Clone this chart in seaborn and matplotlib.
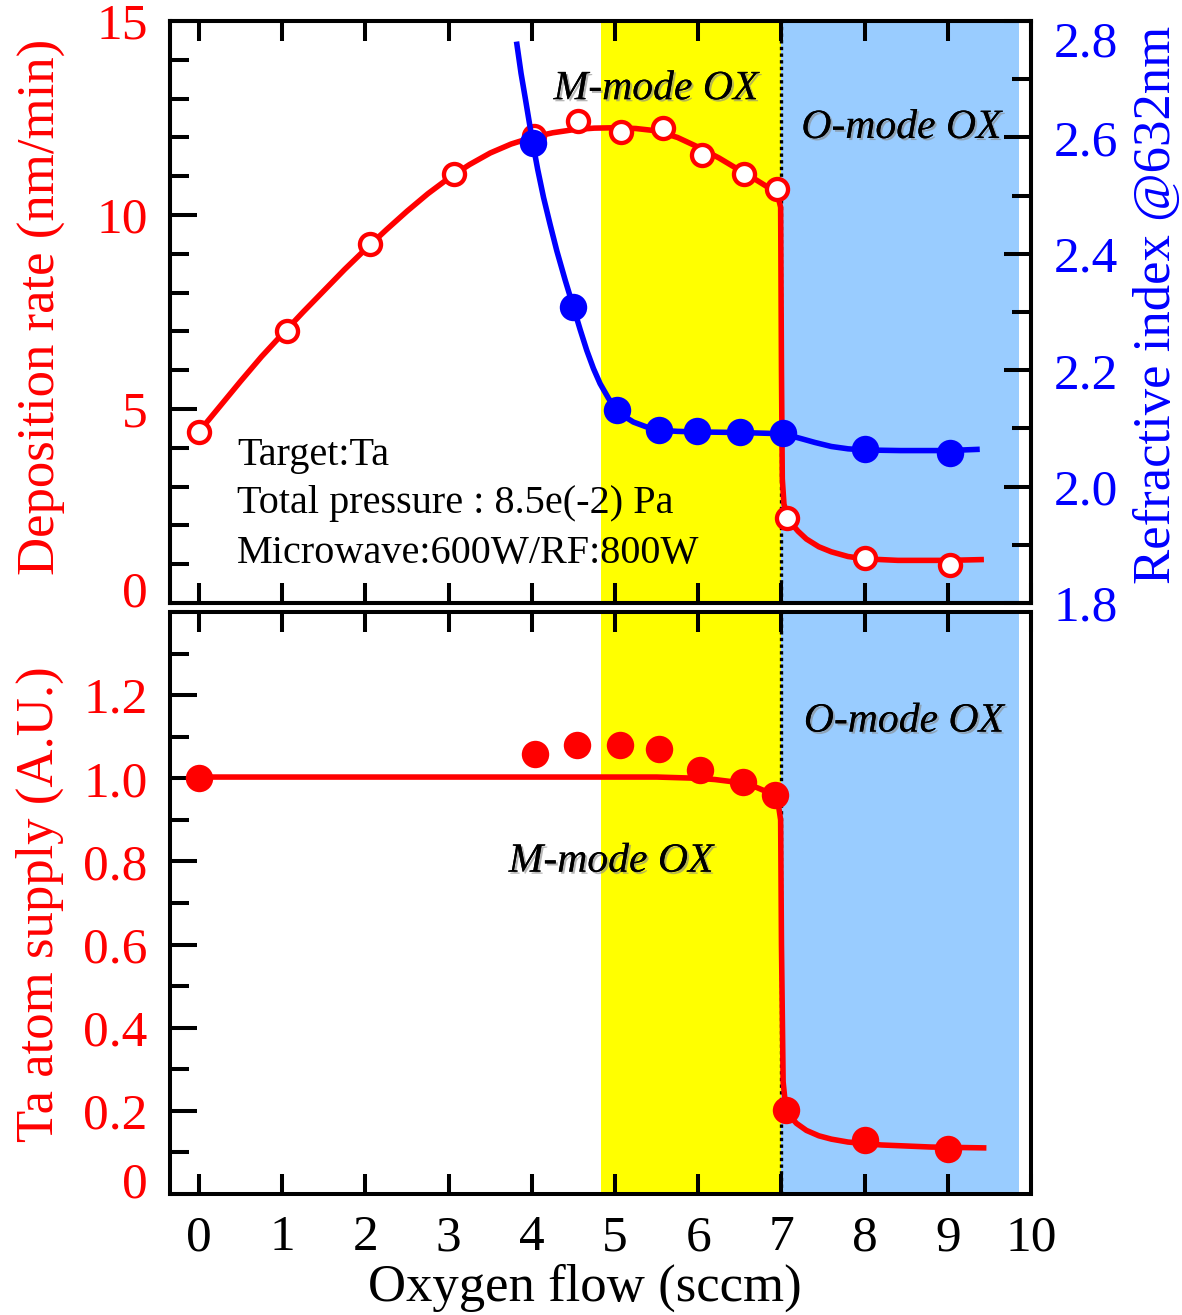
import matplotlib
matplotlib.use("Agg")
import matplotlib.pyplot as plt
import matplotlib.patheffects as pe
import matplotlib.transforms as mtransforms
from matplotlib.ticker import FixedLocator, MultipleLocator
import seaborn as sns

plt.rcParams['font.family'] = ['Liberation Serif', 'DejaVu Serif']

# deposition rate (nm/min), measured points
dep_x = [0, 1.06, 2.05, 3.06, 4.02, 4.55, 5.07, 5.58, 6.04, 6.55, 6.95, 7.07, 8.0, 9.02]
dep_y = [4.42, 7.0, 9.25, 11.05, 12.03, 12.43, 12.13, 12.24, 11.56, 11.06, 10.66, 2.19, 1.16, 0.98]
# fitted curve
dep_fit_x = [0, 0.25, 0.5, 0.75, 1.0, 1.25, 1.5, 1.75, 2.0, 2.25, 2.5, 2.75, 3.0, 3.25,
             3.5, 3.75, 4.0, 4.25, 4.5, 4.75, 5.0, 5.25, 5.5, 5.75, 6.0, 6.25, 6.5, 6.7,
             6.85, 6.95, 6.99, 7.0, 7.01, 7.03, 7.07, 7.12, 7.2, 7.3, 7.45, 7.6, 7.8,
             8.0, 8.4, 9.0, 9.4]
dep_fit_y = [4.42, 5.07, 5.72, 6.35, 6.93, 7.5, 8.05, 8.6, 9.12, 9.62, 10.1, 10.55, 10.95,
             11.3, 11.6, 11.83, 12.0, 12.12, 12.2, 12.24, 12.25, 12.23, 12.17, 12.0, 11.75,
             11.47, 11.15, 10.9, 10.7, 10.55, 10.2, 6.0, 3.2, 2.55, 2.25, 2.05, 1.85, 1.65,
             1.45, 1.32, 1.2, 1.14, 1.1, 1.1, 1.12]

# refractive index @632nm
ri_x = [4.01, 4.50, 5.02, 5.53, 5.98, 6.50, 7.02, 8.0, 9.02]
ri_y = [2.591, 2.308, 2.131, 2.097, 2.095, 2.094, 2.092, 2.064, 2.057]
ri_fit_x = [3.82, 3.87, 3.92, 3.97, 4.01, 4.07, 4.14, 4.22, 4.30, 4.40, 4.50, 4.58, 4.66,
            4.74, 4.82, 4.92, 5.02, 5.12, 5.22, 5.37, 5.53, 5.75, 6.0, 6.5, 7.0, 7.12,
            7.25, 7.4, 7.6, 7.8, 8.0, 8.43, 9.0, 9.35]
ri_fit_y = [2.760, 2.710, 2.668, 2.625, 2.591, 2.545, 2.497, 2.450, 2.405, 2.355, 2.308,
            2.270, 2.234, 2.203, 2.177, 2.152, 2.131, 2.120, 2.111, 2.103, 2.097, 2.095,
            2.094, 2.093, 2.091, 2.087, 2.082, 2.076, 2.069, 2.065, 2.063, 2.062, 2.062,
            2.064]

# Ta atom supply (A.U.)
ta_x = [0, 4.04, 4.54, 5.06, 5.53, 6.02, 6.54, 6.92, 7.06, 8.0, 9.0]
ta_y = [1.0, 1.058, 1.08, 1.08, 1.07, 1.02, 0.99, 0.96, 0.202, 0.13, 0.108]
ta_fit_x = [0, 2.0, 4.0, 5.5, 6.0, 6.2, 6.4, 6.55, 6.7, 6.82, 6.9, 6.96, 6.99, 7.0,
            7.02, 7.05, 7.1, 7.18, 7.3, 7.45, 7.6, 7.8, 8.2, 8.8, 9.43]
ta_fit_y = [1.003, 1.003, 1.003, 1.003, 1.0, 0.997, 0.992, 0.987, 0.978, 0.968, 0.958,
            0.94, 0.9, 0.6, 0.27, 0.21, 0.188, 0.17, 0.153, 0.14, 0.132, 0.125, 0.118,
            0.113, 0.111]

# regions
m_mode = (4.83, 7.0)
o_mode = (7.0, 9.85)
boundary = 7.0

fig = plt.figure(figsize=(11.82, 13.15), dpi=100)
ax1 = fig.add_axes([0.1438, 0.5414, 0.7285, 0.4426])
ax3 = fig.add_axes([0.1438, 0.0920, 0.7285, 0.4426])

for ax in (ax1, ax3):
    ax.axvspan(*m_mode, color='#ffff00', lw=0, zorder=0)
    ax.axvspan(*o_mode, color='#99ccff', lw=0, zorder=0)
    ax.axvline(boundary, color='black', ls=(0, (1, 1)), lw=2.4, zorder=1)
    ax.set_xlim(-0.35, 10)
    ax.xaxis.set_major_locator(FixedLocator(range(0, 11)))
    ax.tick_params(axis='x', which='major', direction='in', length=14.5, width=2.9,
                   top=True, bottom=True, pad=15, labelsize=37)
    ax.tick_params(axis='y', which='major', direction='in', length=19.5, width=2.9,
                   left=True, right=False, pad=16, labelsize=37, labelcolor='red')
    ax.tick_params(axis='y', which='minor', direction='in', length=13.7, width=2.9,
                   left=True, right=False)
    for s in ax.spines.values():
        s.set_linewidth(2.9)

ax1.tick_params(axis='x', labelbottom=False)

line_kw = dict(lw=4.0, estimator=None, sort=False, solid_joinstyle='round', zorder=3)

# top panel: deposition rate
sns.lineplot(x=dep_fit_x, y=dep_fit_y, color='red', ax=ax1, **line_kw)
sns.scatterplot(x=dep_x, y=dep_y, color='white', edgecolor='red', linewidth=3.1,
                s=230, marker='o', ax=ax1, zorder=4)
ax1.set_ylim(0, 15)
ax1.yaxis.set_major_locator(FixedLocator([0, 5, 10, 15]))
ax1.yaxis.set_minor_locator(MultipleLocator(1))
ax1.set_ylabel('Deposition rate (nm/min)', fontsize=38, color='red')
ax1.yaxis.label.set(ha='center', va='center', rotation_mode='default')
ax1.yaxis.set_label_coords(-0.149, 0.509)

ax1.text(0.46, 3.56, 'Target:Ta', fontsize=29, va='baseline', zorder=5)
ax1.text(0.46, 2.32, 'Total pressure : 8.5e(-2) Pa', fontsize=29, va='baseline', zorder=5)
ax1.text(0.46, 1.03, 'Microwave:600W/RF:800W', fontsize=29, va='baseline', zorder=5)

shadow = [pe.withSimplePatchShadow(offset=(1.5, -1.5), shadow_rgbFace='#888888', alpha=0.6),
          pe.Normal()]
ax1.text(5.49, 13.25, 'M-mode OX', fontsize=30, style='italic', ha='center', va='center',
         path_effects=shadow, zorder=5)
ax1.text(8.44, 12.25, 'O-mode OX', fontsize=30, style='italic', ha='center', va='center',
         path_effects=shadow, zorder=5)

# right axis: refractive index
ax2 = ax1.twinx()
sns.lineplot(x=ri_fit_x, y=ri_fit_y, color='#0000ff', ax=ax2, **line_kw)
sns.scatterplot(x=ri_x, y=ri_y, color='#0000ff', edgecolor='#0000ff', linewidth=0,
                s=390, marker='o', ax=ax2, zorder=4)
ax2.set_ylim(1.8, 2.8)
ax2.set_xlim(-0.35, 10)
ax2.yaxis.set_major_locator(FixedLocator([1.8, 2.0, 2.2, 2.4, 2.6, 2.8]))
ax2.yaxis.set_minor_locator(MultipleLocator(0.1))
ax2.set_yticklabels(['1.8', '2.0', '2.2', '2.4', '2.6', '2.8'])
ax2.tick_params(axis='y', which='major', direction='in', length=19.5, width=2.9, pad=16,
                labelsize=37, labelcolor='#0000ff')
ax2.tick_params(axis='y', which='minor', direction='in', length=13.7, width=2.9)
ax2.get_yticklabels()[-1].set_verticalalignment('top')
for s in ax2.spines.values():
    s.set_linewidth(2.9)
ax2.set_ylabel('Refractive index @632nm', fontsize=38, color='#0000ff')
ax2.yaxis.label.set(ha='center', va='center', rotation_mode='default')
ax2.yaxis.set_label_coords(1.146, 0.512)

# bottom panel: Ta atom supply
sns.lineplot(x=ta_fit_x, y=ta_fit_y, color='red', ax=ax3, **line_kw)
sns.scatterplot(x=ta_x, y=ta_y, color='red', edgecolor='red', linewidth=0,
                s=390, marker='o', ax=ax3, zorder=4)
ax3.set_ylim(0, 1.4)
ax3.yaxis.set_major_locator(FixedLocator([0, 0.2, 0.4, 0.6, 0.8, 1.0, 1.2]))
ax3.yaxis.set_minor_locator(MultipleLocator(0.1))
ax3.set_yticklabels(['0', '0.2', '0.4', '0.6', '0.8', '1.0', '1.2'])
ax3.set_ylabel('Ta atom supply (A.U.)', fontsize=38, color='red')
ax3.yaxis.label.set(ha='center', va='center', rotation_mode='default')
ax3.yaxis.set_label_coords(-0.151, 0.498)
ax3.set_xlabel('Oxygen flow (sccm)', fontsize=38)
ax3.xaxis.label.set(ha='center', va='center')
ax3.xaxis.set_label_coords(0.482, -0.1615)

ax3.text(8.47, 1.137, 'O-mode OX', fontsize=30, style='italic', ha='center', va='center',
         path_effects=shadow, zorder=5)
ax3.text(4.95, 0.80, 'M-mode OX', fontsize=30, style='italic', ha='center', va='center',
         path_effects=shadow, zorder=5)

# the "0" labels sit a little above their ticks in the original
up = mtransforms.ScaledTranslation(0, 10 / 72, fig.dpi_scale_trans)
for ax in (ax1, ax3):
    lab = ax.get_yticklabels()[0]
    lab.set_transform(lab.get_transform() + up)

fig.savefig('out.png', dpi=100)
